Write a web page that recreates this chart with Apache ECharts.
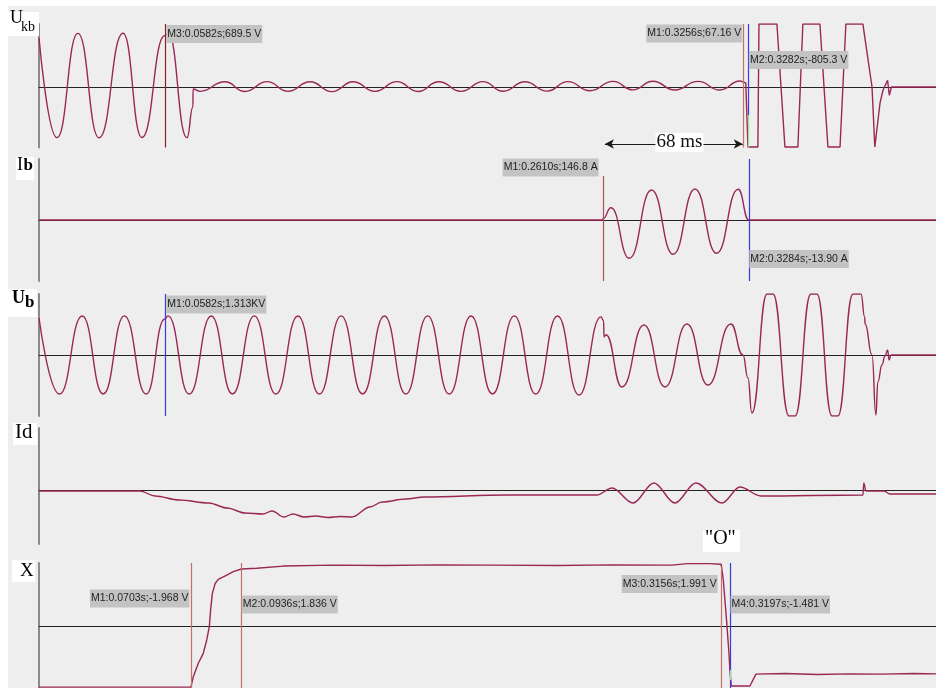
<!DOCTYPE html>
<html>
<head>
<meta charset="utf-8">
<script src="https://cdn.jsdelivr.net/npm/echarts@6/dist/echarts.min.js"></script>
<style>
  html, body { margin: 0; padding: 0; background: #ffffff; }
  #chart { width: 936px; height: 688px; }
</style>
</head>
<body>
<div id="chart"></div>
<script>
// Recorder traces, time in milliseconds from the start of the record.

// Ukb – voltage across the breaker contacts (V)
const ukbMs = [0, 8.3, 18.0, 27.8, 38.9, 47.6, 58.2, 59.8, 68.5, 71.2, 71.3, 74.5, 86.0, 95.3, 105.5, 115.2, 125.4, 135.5, 145.3, 155.4, 165.6, 175.3, 185.0, 195.2, 205.4, 214.7, 224.8, 235.0, 244.7, 254.9, 265.5, 274.8, 284.0, 294.2, 304.9, 315.0, 324.3, 325.6];
const ukbV = [658, -680, 720, -682, 722, -678, 689.5, 718, -680, -268, -27, -58, 70, -60, 72, -58, 70, -62, 71, -58, 72, -60, 70, -58, 72, -56, 70, -55, 72, -50, 76, -38, 78, -40, 76, -40, 80, 67.16];
// Ukb after the opening command (clipped square-like wave)
const ukbTailMs = [325.6, 327.0, 328.0, 332.6, 333.1, 341.4, 345.1, 351.1, 353.4, 361.3, 365.0, 370.6, 373.3, 381.2, 381.6, 382.1, 385.4, 386.7, 389.1, 390.5, 392.6, 393.4, 394.4, 415];
const ukbTailV = [67.16, 55, -805.3, -805.3, 846, 846, -805.3, -805.3, 846, 846, -805.3, -805.3, 846, 846, 760, 660, 0, -805.3, -215, -40, 90, -110, 0, 0];

// Ib – branch current (A)
const ibMs = [0, 260.9, 261.0, 264.6, 273.1, 283.4, 293.4, 303.5, 313.5, 323.5, 328.4, 330.0, 415];
const ibA = [0, 0, 146.8, 1230, -3830, 3000, -3430, 3100, -3330, 3070, -13.9, 0, 0];

// Ub – bus voltage (V); the swing after 330 ms is clipped by the recorder range
const ubMs = [0, 9.5, 20.0, 29.7, 39.5, 49.6, 58.2, 59.7, 69.5, 79.7,
  89.5, 99.6, 109.6, 119.8, 129.7, 139.8, 149.7, 159.8, 169.7, 179.8,
  189.8, 199.9, 209.8, 219.9, 229.8, 239.9, 249.8, 260.0, 261.2, 261.4,
  262.3, 269.7, 279.9, 289.6, 299.8, 309.5, 320.1, 325.7, 328.0, 329.8,
  336.8, 339.6, 347.0, 349.8, 357.1, 359.9, 366.9, 369.6, 376.6, 380.3,
  382.0, 382.2, 385.4, 387.2, 388.1, 390.0, 391.4, 392.6, 393.3, 394.2,
  415];
const ubV = [1350, -1424, 1424, -1420, 1428, -1424, 1313, 1428, -1424, 1424,
  -1420, 1428, -1424, 1424, -1424, 1428, -1420, 1424, -1424, 1428,
  -1424, 1424, -1420, 1428, -1424, 1424, -1460, 1390, 1250, 660,
  740, -1167, 1094, -1167, 1130, -1094, 1130, 0, -839, -2115,
  2225, 2225, -2225, -2225, 2225, 2225, -2225, -2225, 2225, 2225,
  1390, 1130, 0, -2190, -985, -365, -36, 180, -180, 0,
  0];

// Id – differential current (A)
const idMs = [0, 46.7, 53.7, 64.8, 78.6, 87.0, 95.3, 103.6, 107.8, 113.3, 117.5, 122.6, 128.1, 133.7, 139.3, 144.8, 153.1, 158.7, 169.8, 178.1, 216.5, 258.1, 265.1, 274.8, 284.5, 294.2, 303.9, 316.0, 324.3, 334.0, 381.2, 381.6, 382.6, 390.9, 393.7, 415];
const idA = [-10, -10, -60, -100, -130, -180, -230, -240, -210, -270, -240, -270, -260, -275, -265, -270, -170, -120, -90, -70, -50, -50, 20, -130, 70, -130, 70, -130, 30, -60, -50, 70, -10, -10, -40, -40];

// X – breaker position signal (V)
const xMs = [0, 70.3, 71.4, 73.7, 76.0, 77.6, 78.8, 79.4, 80.2, 81.5, 82.9, 86.0, 89.9, 93.6, 100.7, 113.0, 136.1, 160, 185, 210, 240, 265, 293, 300, 310, 315.6, 316.6, 318.1, 319.2, 319.7, 320.3, 328.9, 331.7, 345, 360, 375, 390, 405, 415];
const xV = [-1.968, -1.968, -1.63, -1.20, -0.88, -0.45, -0.02, 0.52, 1.05, 1.37, 1.50, 1.61, 1.75, 1.836, 1.86, 1.93, 1.96, 1.95, 1.97, 1.96, 1.95, 1.97, 1.96, 2.01, 2.01, 1.991, 1.48, 0.19, -0.87, -1.481, -1.93, -1.93, -1.55, -1.53, -1.56, -1.54, -1.55, -1.53, -1.54];

// Cursor readouts
const ukbCursorMs = [58.2, 325.6, 328.2];
const ukbCursorText = ['M3:0.0582s;689.5 V', 'M1:0.3256s;67.16 V', 'M2:0.3282s;-805.3 V'];
const ibCursorMs = [261.0, 328.4];
const ibCursorText = ['M1:0.2610s;146.8 A', 'M2:0.3284s;-13.90 A'];
const ubCursorMs = [58.2];
const ubCursorText = ['M1:0.0582s;1.313KV'];
const xCursorMs = [70.3, 93.6, 315.6, 319.7];
const xCursorText = ['M1:0.0703s;-1.968 V', 'M2:0.0936s;1.836 V', 'M3:0.3156s;1.991 V', 'M4:0.3197s;-1.481 V'];
const spanMs = [261.8, 325.6];
const spanText = '68 ms';

const T_MAX = 415;
const TRACE = '#9a2756';
const SALMON = '#c4716b';
const BROWN = '#a45650';
const DARKRED = '#8e1f22';
const BLUE = '#3b3bdd';
const GREEN = '#9be39b';

const panels = [
  { top: 24,  height: 123.5, min: -812,  max: 846 },
  { top: 159, height: 122,   min: -6100, max: 6100 },
  { top: 294, height: 122,   min: -2225, max: 2225 },
  { top: 428, height: 116,   min: -540,  max: 620 },
  { top: 563, height: 125,   min: -1.996, max: 2.029 }
];

const zip = (t, v) => t.map((x, i) => [x, v[i]]);

const tagStyle = {
  backgroundColor: '#c3c3c3',
  color: '#1e1e1e',
  fontSize: 10.5,
  fontFamily: "'Liberation Sans',Arial,sans-serif",
  padding: [4, 1, 3, 1]
};

function vline(ms, lo, hi, color) {
  return [{ coord: [ms, lo], lineStyle: { color: color, width: 1.2, type: 'solid' } }, { coord: [ms, hi] }];
}
function tag(ms, v, text, side, dist) {
  return {
    coord: [ms, v], symbol: 'rect', symbolSize: 1,
    itemStyle: { color: 'rgba(0,0,0,0)' },
    label: Object.assign({ show: true, position: side, distance: dist, formatter: text }, tagStyle)
  };
}

function trace(idx, data, smooth, extra) {
  return Object.assign({
    type: 'line', xAxisIndex: idx, yAxisIndex: idx, data: data,
    showSymbol: false, symbol: 'none', smooth: smooth, smoothMonotone: 'x',
    silent: true, clip: true,
    lineStyle: { color: TRACE, width: 1.4 }
  }, extra || {});
}

const markLineBase = { silent: true, symbol: ['none', 'none'], label: { show: false }, animation: false };

const P = panels;
const series = [
  trace(0, zip(ukbMs, ukbV), 0.5, {
    markLine: Object.assign({}, markLineBase, {
      data: [
        vline(ukbCursorMs[0], P[0].min, P[0].max, DARKRED),
        vline(ukbCursorMs[1], P[0].min, P[0].max, SALMON),
        vline(ukbCursorMs[2], -376, P[0].max, BLUE),
        vline(ukbCursorMs[2], P[0].min, -376, GREEN),
        [{ coord: [spanMs[0], -765], symbol: 'arrow', symbolSize: [7, 9], lineStyle: { color: '#1a1a1a', width: 1.2, type: 'solid' } },
         { coord: [spanMs[1], -765], symbol: 'arrow', symbolSize: [7, 9] }]
      ]
    }),
    markPoint: {
      silent: true, animation: false,
      data: [
        tag(ukbCursorMs[0], 711, ukbCursorText[0], 'right', 1),
        tag(ukbCursorMs[1], 718, ukbCursorText[1], 'left', 0),
        tag(ukbCursorMs[2], 362, ukbCursorText[2], 'right', 0),
        {
          coord: [296.3, -745], symbol: 'rect', symbolSize: 1, itemStyle: { color: 'rgba(0,0,0,0)' },
          label: { show: true, position: 'inside', formatter: spanText, backgroundColor: '#ffffff',
                   color: '#111', fontSize: 19, fontFamily: "'Liberation Serif','Times New Roman',serif", padding: [0, 1, 0, 1] }
        }
      ]
    }
  }),
  trace(0, zip(ukbTailMs, ukbTailV), false),
  trace(1, zip(ibMs, ibA), 0.5, {
    markLine: Object.assign({}, markLineBase, {
      data: [
        vline(ibCursorMs[0], P[1].min, 4400, BROWN),
        vline(ibCursorMs[1], P[1].min, P[1].max, BLUE)
      ]
    }),
    markPoint: {
      silent: true, animation: false,
      data: [
        tag(ibCursorMs[0], 5250, ibCursorText[0], 'left', 4),
        tag(ibCursorMs[1], -3900, ibCursorText[1], 'right', 0)
      ]
    }
  }),
  trace(2, zip(ubMs, ubV), 0.5, {
    markLine: Object.assign({}, markLineBase, {
      data: [ vline(ubCursorMs[0], P[2].min, P[2].max, BLUE) ]
    }),
    markPoint: {
      silent: true, animation: false,
      data: [ tag(ubCursorMs[0], 1842, ubCursorText[0], 'right', 1) ]
    }
  }),
  trace(3, zip(idMs, idA), 0.35),
  trace(4, zip(xMs, xV), false, {
    markLine: Object.assign({}, markLineBase, {
      data: [
        vline(xCursorMs[0], P[4].min, P[4].max, SALMON),
        vline(xCursorMs[1], P[4].min, P[4].max, SALMON),
        vline(xCursorMs[2], P[4].min, 1.90, SALMON),
        vline(xCursorMs[3], P[4].min, P[4].max, BLUE),
        vline(xCursorMs[3], -1.74, -1.42, GREEN)
      ]
    }),
    markPoint: {
      silent: true, animation: false,
      data: [
        tag(xCursorMs[0], 0.886, xCursorText[0], 'left', 1),
        tag(xCursorMs[1], 0.692, xCursorText[1], 'right', 0),
        tag(xCursorMs[2], 1.352, xCursorText[2], 'left', 3),
        tag(xCursorMs[3], 0.692, xCursorText[3], 'right', 0)
      ]
    }
  })
];

const serif = "'Liberation Serif','Times New Roman',serif";
function box(x, y, w, h) {
  return { type: 'rect', shape: { x: x, y: y, width: w, height: h }, style: { fill: '#ffffff' }, z: 1, silent: true };
}
function txt(x, y, s, size, weight) {
  return { type: 'text', x: x, y: y, z: 2, silent: true,
           style: { text: s, fill: '#000', font: (weight || 'normal') + ' ' + size + 'px ' + serif, verticalAlign: 'top' } };
}

const option = {
  animation: false,
  backgroundColor: '#ffffff',
  grid: P.map(p => ({ left: 39, right: 0, top: p.top, height: p.height })),
  xAxis: P.map((p, i) => ({
    type: 'value', gridIndex: i, min: 0, max: T_MAX,
    axisLine: { show: true, onZero: true, lineStyle: { color: '#232323', width: 1.2 } },
    axisTick: { show: false }, axisLabel: { show: false }, splitLine: { show: false }
  })),
  yAxis: P.map((p, i) => ({
    type: 'value', gridIndex: i, min: p.min, max: p.max,
    axisLine: { show: true, lineStyle: { color: '#8a8a8a', width: 2 } },
    axisTick: { show: false }, axisLabel: { show: false }, splitLine: { show: false }
  })),
  graphic: [
    { type: 'rect', shape: { x: 8, y: 6, width: 928, height: 682 }, style: { fill: '#eeeeee' }, z: -10, silent: true },
    box(8, 12, 31, 24), txt(10, 9.5, 'U', 18), txt(21, 20, 'kb', 14),
    box(16, 157, 18, 23), txt(17, 156, 'I', 18), txt(23.5, 157, 'b', 17, 'bold'),
    box(8, 289, 29, 28), txt(12, 289.5, 'U', 18, 'bold'), txt(25, 294.5, 'b', 17, 'bold'),
    box(13, 423, 24, 22), txt(15, 421.5, 'Id', 21),
    box(12, 560, 23, 22), txt(20, 561.5, 'X', 19),
    box(703, 530, 37, 22), txt(705, 528.5, '"O"', 20)
  ],
  series: series
};

const chart = echarts.init(document.getElementById('chart'), null, { renderer: 'canvas' });
chart.setOption(option);
</script>
</body>
</html>
